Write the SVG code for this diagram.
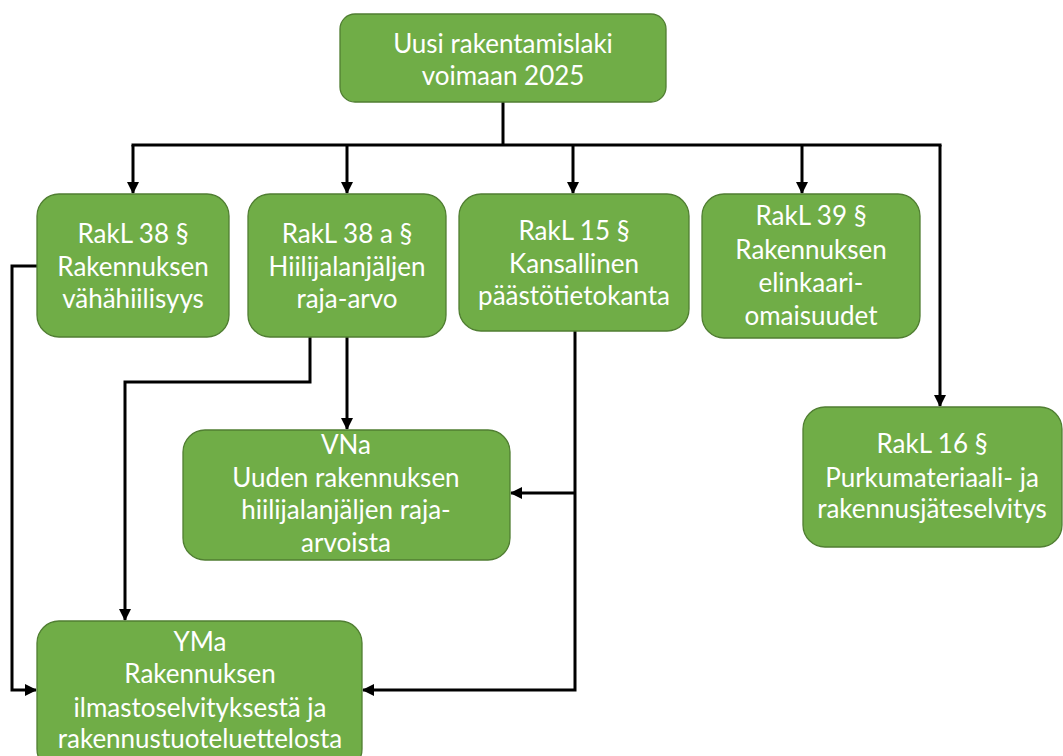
<svg xmlns="http://www.w3.org/2000/svg" width="1063" height="756" viewBox="0 0 1063 756">
  <style>
    .box { fill: #70AD47; stroke: #507E32; stroke-width: 1.3; }
    .lbl { fill: #FFFFFF; font-family: Lato, "Open Sans", "Liberation Sans", sans-serif; font-size: 26px; text-anchor: middle; }
    .wire { fill: none; stroke: #000000; stroke-width: 3; stroke-linejoin: miter; }
  </style>
  <defs>
    <marker id="arrow" viewBox="0 0 12 12" refX="11" refY="6" markerWidth="12" markerHeight="12" markerUnits="userSpaceOnUse" orient="auto">
      <path d="M0,0 L12,6 L0,12 Z" fill="#000000"/>
    </marker>
  </defs>
  <rect width="1063" height="756" fill="#FFFFFF"/>

  <g id="connectors">
    <path class="wire" d="M503,102 V145"/>
    <path class="wire" d="M131.5,145 H941.5"/>
    <path class="wire" d="M133,145 V193" marker-end="url(#arrow)"/>
    <path class="wire" d="M347,145 V193" marker-end="url(#arrow)"/>
    <path class="wire" d="M573,145 V193" marker-end="url(#arrow)"/>
    <path class="wire" d="M802,145 V193" marker-end="url(#arrow)"/>
    <path class="wire" d="M940,145 V406" marker-end="url(#arrow)"/>
    <path class="wire" d="M37,266 H12 V690 H36" marker-end="url(#arrow)"/>
    <path class="wire" d="M310,337 V382 H125 V620" marker-end="url(#arrow)"/>
    <path class="wire" d="M347,337 V429" marker-end="url(#arrow)"/>
    <path class="wire" d="M575,331 V690 H363" marker-end="url(#arrow)"/>
    <path class="wire" d="M575,493 H511" marker-end="url(#arrow)"/>
  </g>

  <g id="node-law">
    <rect class="box" x="340" y="14" width="326" height="88" rx="15"/>
    <text class="lbl" x="503" y="53">Uusi rakentamislaki</text>
    <text class="lbl" x="503" y="85">voimaan 2025</text>
  </g>

  <g id="node-rakl38">
    <rect class="box" x="37" y="194" width="192" height="143" rx="22"/>
    <text class="lbl" x="133" y="243">RakL 38 §</text>
    <text class="lbl" x="133" y="276">Rakennuksen</text>
    <text class="lbl" x="133" y="308">vähähiilisyys</text>
  </g>

  <g id="node-rakl38a">
    <rect class="box" x="248" y="194" width="198" height="143" rx="22"/>
    <text class="lbl" x="347" y="243">RakL 38 a §</text>
    <text class="lbl" x="347" y="276">Hiilijalanjäljen</text>
    <text class="lbl" x="347" y="308">raja-arvo</text>
  </g>

  <g id="node-rakl15">
    <rect class="box" x="459" y="194" width="230" height="137" rx="22"/>
    <text class="lbl" x="574" y="240">RakL 15 §</text>
    <text class="lbl" x="574" y="273">Kansallinen</text>
    <text class="lbl" x="574" y="305">päästötietokanta</text>
  </g>

  <g id="node-rakl39">
    <rect class="box" x="702" y="194" width="218" height="144" rx="22"/>
    <text class="lbl" x="811" y="225">RakL 39 §</text>
    <text class="lbl" x="811" y="259">Rakennuksen</text>
    <text class="lbl" x="811" y="292">elinkaari-</text>
    <text class="lbl" x="811" y="325">omaisuudet</text>
  </g>

  <g id="node-rakl16">
    <rect class="box" x="803" y="407" width="259" height="140" rx="22"/>
    <text class="lbl" x="932" y="453">RakL 16 §</text>
    <text class="lbl" x="932" y="487">Purkumateriaali- ja</text>
    <text class="lbl" x="932" y="518">rakennusjäteselvitys</text>
  </g>

  <g id="node-vna">
    <rect class="box" x="183" y="430" width="327" height="130" rx="22"/>
    <text class="lbl" x="346" y="454">VNa</text>
    <text class="lbl" x="346" y="487">Uuden rakennuksen</text>
    <text class="lbl" x="346" y="519">hiilijalanjäljen raja-</text>
    <text class="lbl" x="346" y="552">arvoista</text>
  </g>

  <g id="node-yma">
    <rect class="box" x="37" y="621" width="325" height="150" rx="22"/>
    <text class="lbl" x="200" y="651">YMa</text>
    <text class="lbl" x="200" y="683">Rakennuksen</text>
    <text class="lbl" x="200" y="717">ilmastoselvityksestä ja</text>
    <text class="lbl" x="200" y="748">rakennustuoteluettelosta</text>
  </g>
</svg>
